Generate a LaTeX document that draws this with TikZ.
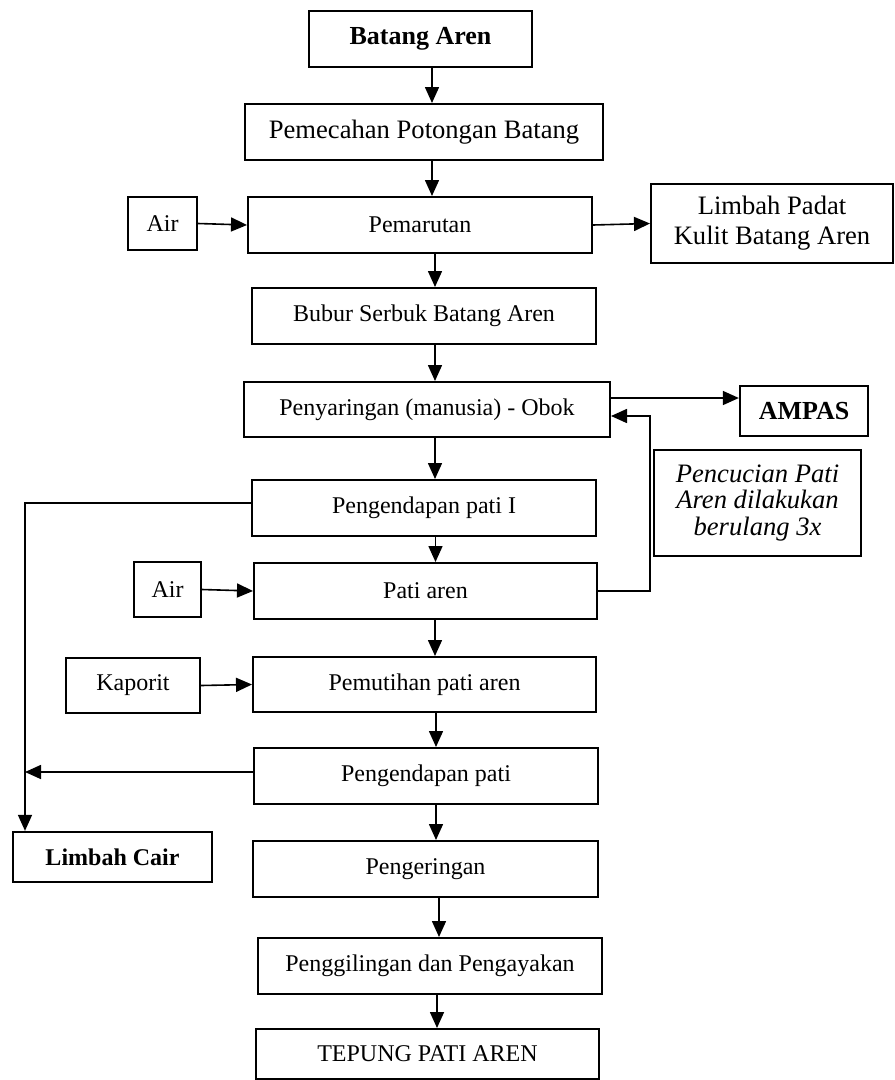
\documentclass[tikz,border=0pt]{standalone}
\usepackage{fontspec}
\setmainfont{Liberation Serif}
\usetikzlibrary{arrows.meta}

\tikzstyle{flowchart}=[%
    every path/.style = {%
		black,
		line width=1.6pt
    },%
	stepBox/.style={%
		draw,
		line width=2pt,
		inner sep=0pt,
		align=center,
		font=\fontsize{24}{27}\selectfont
	},
	bigBox/.style={%
		stepBox,
		font=\fontsize{26.6}{30}\selectfont
	},
	boldBox/.style={%
		stepBox,
		line width=2.3pt,
		font=\fontsize{26}{29}\selectfont\bfseries
	},
	flowArrow/.style={%
		-{Triangle[length=16pt,width=14pt]}
	}
]

\begin{document}
\begin{tikzpicture}[
	x=1pt,
	y=-1pt,
	flowchart
]
	\useasboundingbox (0,0) rectangle (895,1080);

	% main column
	\node[boldBox, minimum width=223, minimum height=56] (batang) at (420.5,39) {Batang Aren};
	\node[bigBox, minimum width=358, minimum height=56] (pemecahan) at (424,132) {Pemecahan Potongan Batang};
	\node[stepBox, minimum width=344, minimum height=56] (pemarutan) at (420,225) {Pemarutan};
	\node[stepBox, minimum width=344, minimum height=56] (bubur) at (424,316) {Bubur Serbuk Batang Aren};
	\node[stepBox, minimum width=366, minimum height=55] (penyaringan) at (427,409.5) {Penyaringan (manusia) - Obok};
	\node[stepBox, minimum width=344, minimum height=56] (pengI) at (424,508) {Pengendapan pati I};
	\node[stepBox, minimum width=343, minimum height=56] (pati) at (425.5,591) {Pati aren};
	\node[stepBox, minimum width=343, minimum height=55] (pemutihan) at (424.5,684.5) {Pemutihan pati aren};
	\node[stepBox, minimum width=344, minimum height=56] (pengendapan) at (426,776) {Pengendapan pati};
	\node[stepBox, minimum width=345, minimum height=56] (pengeringan) at (425.5,869) {Pengeringan};
	\node[stepBox, minimum width=344, minimum height=56] (penggilingan) at (430,966) {Penggilingan dan Pengayakan};
	\node[stepBox, minimum width=343, minimum height=50] (tepung) at (427.5,1054) {TEPUNG PATI AREN};

	% side boxes
	\node[stepBox, minimum width=69, minimum height=53] (air1) at (162.5,223.5) {Air};
	\node[bigBox, minimum width=242, minimum height=79] (limbahpadat) at (772,223.5) {Limbah Padat\\Kulit Batang Aren};
	\node[boldBox, minimum width=128, minimum height=50] (ampas) at (804,411) {AMPAS};
	\node[stepBox, minimum width=207, minimum height=106, font=\fontsize{26.6}{26.8}\selectfont\itshape] (pencucian) at (757.5,503) {Pencucian Pati\\Aren dilakukan\\berulang 3x};
	\node[stepBox, minimum width=67, minimum height=55] (air2) at (167.5,589.5) {Air};
	\node[stepBox, minimum width=134, minimum height=55] (kaporit) at (133,685.5) {Kaporit};
	\node[boldBox, minimum width=199, minimum height=50, font=\fontsize{24}{27}\selectfont\bfseries] (limbahcair) at (112.5,857) {Limbah Cair};

	\coordinate (wastex) at (25,0);

	\foreach \a/\b/\x in {batang/pemecahan/432, pemecahan/pemarutan/432, pemarutan/bubur/435,
		bubur/penyaringan/435, penyaringan/pengI/435, pengI/pati/435.5, pati/pemutihan/435,
		pemutihan/pengendapan/436, pengendapan/pengeringan/436, pengeringan/penggilingan/439,
		penggilingan/tepung/437} {
		\coordinate (col) at (\x,0);
		\draw[flowArrow] (\a.south -| col) -- (\b.north -| col);
	}

	\draw[flowArrow] (air1.east) -- (pemarutan.west);
	\draw[flowArrow] (pemarutan.east) -- (limbahpadat.west);
	\draw[flowArrow] ([yshift=11.5pt]penyaringan.east) -- ([yshift=11.5pt]penyaringan.east -| ampas.west);
	\draw[flowArrow] (pati.east) -- ++(52,0) |- ([yshift=-6.5pt]penyaringan.east);
	\draw[flowArrow] (air2.east) -- (pati.west);
	\draw[flowArrow] (kaporit.east) -- (pemutihan.west);

	\draw[flowArrow] ([yshift=5pt]pengI.west) -| (wastex |- limbahcair.north);
	\draw[flowArrow] ([yshift=4pt]pengendapan.west) -- ([yshift=4pt]pengendapan.west -| wastex);
\end{tikzpicture}
\end{document}
